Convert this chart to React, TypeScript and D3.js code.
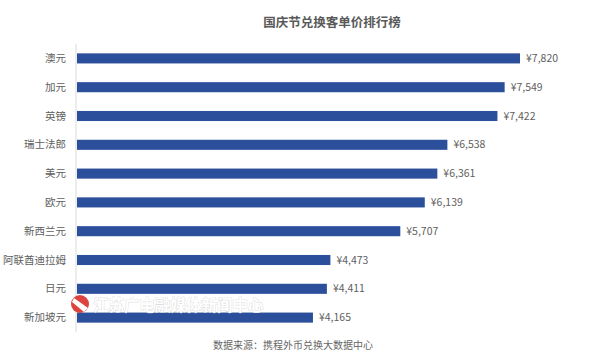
import React from "react";
import * as d3 from "d3";

const categories = ["澳元", "加元", "英镑", "瑞士法郎", "美元", "欧元", "新西兰元", "阿联酋迪拉姆", "日元", "新加坡元"];
const values = [7820, 7549, 7422, 6538, 6361, 6139, 5707, 4473, 4411, 4165];
const title = "国庆节兑换客单价排行榜";
const source = "数据来源：携程外币兑换大数据中心";
const watermark = "江苏广电融媒体新闻中心";

const W = 600;
const H = 364;
const FONT = "'Noto Sans CJK SC', 'Microsoft YaHei', sans-serif";

export default function App() {
  const x0 = 77;
  const x = d3.scaleLinear().domain([0, 7820]).range([x0, 520]);
  const y = d3
    .scaleBand<string>()
    .domain(categories)
    .range([44, 332])
    .paddingInner(0.65)
    .paddingOuter(0.325);
  const bw = y.bandwidth();
  const fmt = d3.format(",");

  return (
    <svg
      width={W}
      height={H}
      style={{ position: "absolute", left: 0, top: 0, background: "#fff" }}
      fontFamily={FONT}
    >
      <rect width={W} height={H} fill="#fff" />
      <text x={332} y={27} textAnchor="middle" fontSize={12.5} fontWeight="bold" fill="#595959">
        {title}
      </text>
      <line x1={x0 - 1} x2={x0 - 1} y1={44} y2={332} stroke="#d9d9d9" strokeWidth={1} />
      {categories.map((c, i) => {
        const yc = (y(c) as number) + bw / 2;
        return (
          <g key={c}>
            <rect x={x0} y={y(c)} width={x(values[i]) - x0} height={bw} fill="#2b4f9a" />
            <text x={66} y={yc} dy="0.35em" textAnchor="end" fontSize={10.5} fill="#606060">
              {c}
            </text>
            <text x={x(values[i]) + 6} y={yc} dy="0.35em" textAnchor="start" fontSize={10.5} fill="#606060">
              {"¥" + fmt(values[i])}
            </text>
          </g>
        );
      })}
      <text x={293} y={345} dy="0.35em" textAnchor="middle" fontSize={10} fill="#666">
        {source}
      </text>
      <g opacity={0.9}>
        <circle cx={80} cy={304} r={9} fill="#d9302c" />
        <path d="M74,298 L88,308 L84,312 L72,302 Z" fill="#fff" />
        <text
          x={93}
          y={306}
          dy="0.35em"
          fontSize={15.5}
          fontWeight="bold"
          fill="#fff"
          stroke="#c8c8c8"
          strokeWidth={0.6}
          paintOrder="stroke"
        >
          {watermark}
        </text>
      </g>
    </svg>
  );
}
